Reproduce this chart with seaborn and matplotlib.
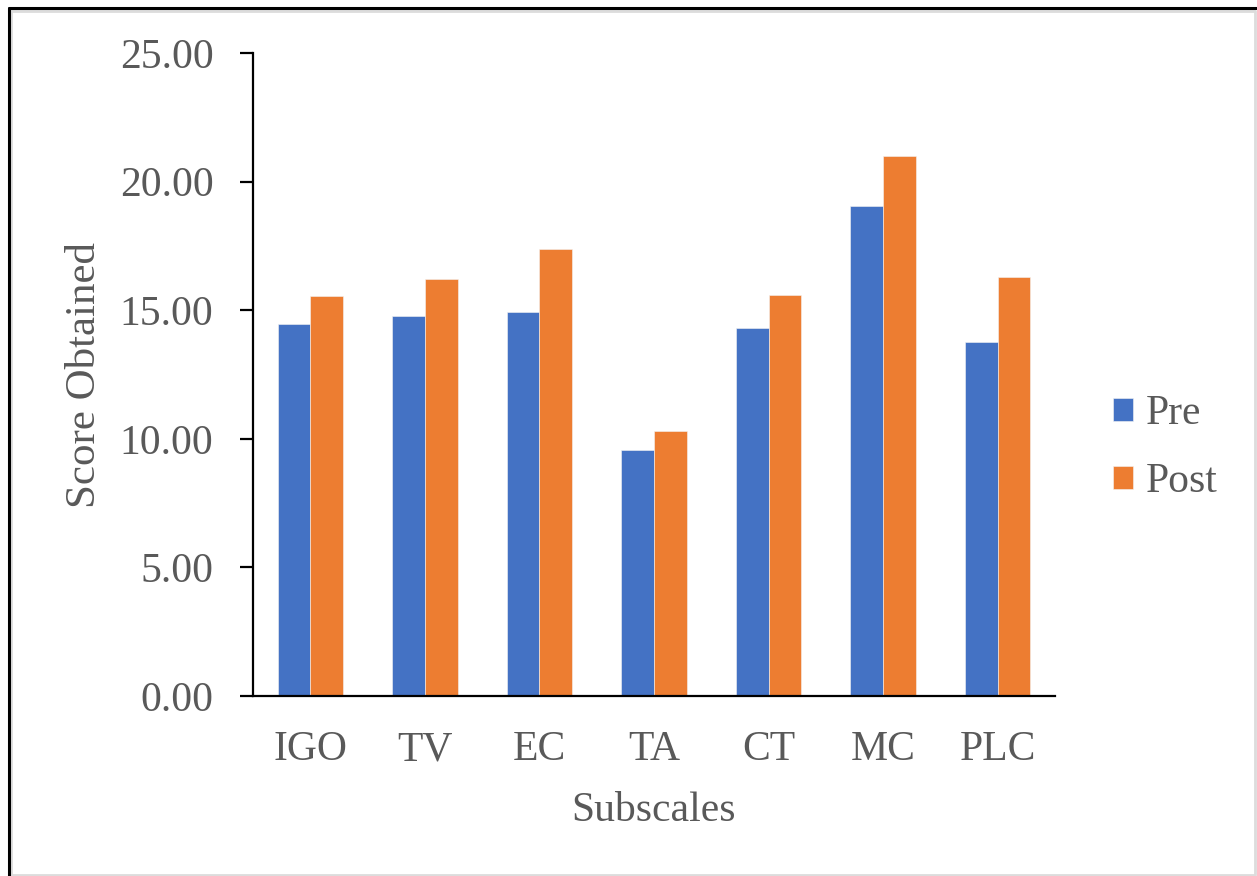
import matplotlib
matplotlib.use("Agg")
import matplotlib.pyplot as plt
from matplotlib.lines import Line2D
import seaborn as sns
import pandas as pd

# Mean subscale scores before and after the intervention
subscales = ["IGO", "TV", "EC", "TA", "CT", "MC", "PLC"]
pre_scores = [14.46, 14.79, 14.92, 9.56, 14.31, 19.06, 13.78]
post_scores = [15.54, 16.22, 17.38, 10.30, 15.61, 20.99, 16.29]
series_names = ["Pre", "Post"]
y_ticks = [0, 5, 10, 15, 20, 25]

df = pd.DataFrame({
    "Subscale": subscales * 2,
    "Score": pre_scores + post_scores,
    "Test": [series_names[0]] * len(subscales) + [series_names[1]] * len(subscales),
})

sns.set_theme(style="white")
plt.rcParams["font.family"] = ["Liberation Serif", "DejaVu Serif"]
text_color = "#595959"

W, H = 1257, 876
fig = plt.figure(figsize=(W / 100, H / 100), dpi=100)
fig.patch.set_facecolor("white")

ax = fig.add_axes([253 / W, 1 - 696 / H, (1055 - 253) / W, (696 - 53) / H])

sns.barplot(
    data=df, x="Subscale", y="Score", hue="Test", order=subscales,
    hue_order=series_names, palette=["#4472C4", "#ED7D31"], saturation=1,
    width=0.57, gap=0, ax=ax, legend=True, errorbar=None,
    edgecolor="#f4f4f4", linewidth=0.4,
)

ax.set_xlim(-0.5, len(subscales) - 0.5)
ax.set_ylim(0, 25)
ax.set_yticks(y_ticks)
ax.set_yticklabels([f"{v:.2f}" for v in y_ticks])

for side in ["top", "right"]:
    ax.spines[side].set_visible(False)
for side in ["left", "bottom"]:
    ax.spines[side].set_color("black")
    ax.spines[side].set_linewidth(1.6)

ax.tick_params(axis="y", which="major", direction="out", length=9.5, width=1.6,
               color="black", pad=19, labelsize=30, labelcolor=text_color, left=True)
ax.tick_params(axis="x", which="major", length=0, pad=25, labelsize=30,
               labelcolor=text_color)

ax.set_xlabel("Subscales", fontsize=30, color=text_color)
ax.set_ylabel("Score Obtained", fontsize=31, color=text_color)
ax.xaxis.label.set_va("center")
ax.yaxis.label.set_va("center")
ax.xaxis.set_label_coords(0.5, (696 - 811) / (696 - 53))
ax.yaxis.set_label_coords((85 - 253) / (1055 - 253), 0.5)

ax.legend(
    loc="center left", bbox_to_anchor=(1113 / W, 1 - 448 / H),
    bbox_transform=fig.transFigure, frameon=False, fontsize=30,
    handlelength=0.48, handleheight=0.48, handletextpad=0.3,
    labelspacing=0.7, borderpad=0, borderaxespad=0,
    labelcolor=text_color,
)

# Outer frame: dark top/left edge, light grey box
fig.add_artist(Line2D([11 / W, 1255 / W, 1255 / W, 11 / W, 11 / W],
                      [1 - 11 / H, 1 - 11 / H, 1 - 875 / H, 1 - 875 / H, 1 - 11 / H],
                      transform=fig.transFigure, color="#dcdcdc", linewidth=2))
fig.add_artist(Line2D([9 / W, 9 / W], [0, 1 - 8 / H],
                      transform=fig.transFigure, color="black", linewidth=2.2))
fig.add_artist(Line2D([9 / W, 1], [1 - 8 / H, 1 - 8 / H],
                      transform=fig.transFigure, color="black", linewidth=2.2))

fig.savefig("out.png", dpi=100, facecolor="white")
